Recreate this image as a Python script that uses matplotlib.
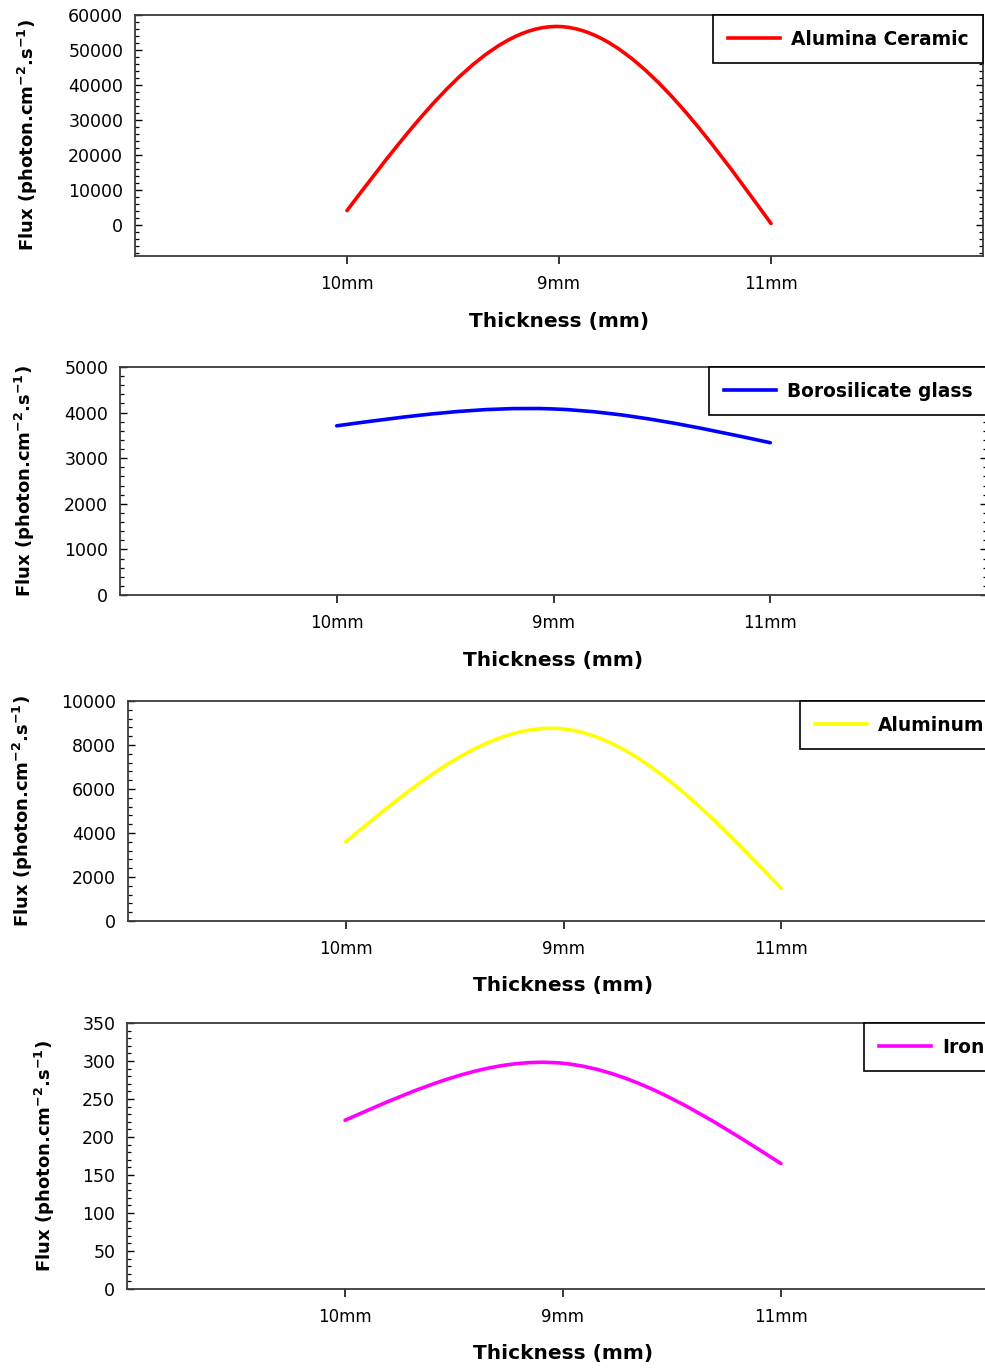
import numpy as np
import matplotlib
matplotlib.use('Agg')
import matplotlib.pyplot as plt
from matplotlib.path import Path
from matplotlib.patches import PathPatch
from matplotlib.lines import Line2D
from matplotlib.ticker import MultipleLocator, AutoMinorLocator

# ─── Data ──────────────────────────────────────────────────────────────────
thickness = ['10mm', '9mm', '11mm']
alumina_ceramic = [4000, 56700, 300]
borosilicate_glass = [3710, 4080, 3340]
aluminum = [3600, 8730, 1480]
iron = [222, 297, 165]

series = [
    ('Alumina Ceramic', alumina_ceramic, '#ff0000'),
    ('Borosilicate glass', borosilicate_glass, '#0000ff'),
    ('Aluminum', aluminum, '#ffff00'),
    ('Iron', iron, '#ff00ff'),
]

# ─── Layout (pixels on a 985 x 1371 canvas) ───────────────────────────────
W, H = 985, 1371
# left, right, top, bottom, ymin, ymax, major step, ylabel centre x
layout = [
    (135, 983, 15, 256, -9000, 60000, 10000, 28),
    (120, 987, 367, 595, 0, 5000, 1000, 25),
    (128, 999, 701, 921, 0, 10000, 2000, 23),
    (127, 999, 1023, 1289, 0, 350, 50, 45),
]

plt.rcParams.update({
    'font.family': 'DejaVu Sans',
    'axes.linewidth': 1.3,
    'axes.edgecolor': '#3a3a3a',
})

YLABEL = r'Flux (photon.cm$^{\mathbf{-2}}$.s$^{\mathbf{-1}}$)'


def spline_path(xs, ys):
    """Natural cubic spline through the points, as cubic Bezier segments."""
    xs = np.asarray(xs, float)
    ys = np.asarray(ys, float)
    n = len(xs)
    h = np.diff(xs)
    A = np.zeros((n, n))
    rhs = np.zeros(n)
    A[0, 0] = A[-1, -1] = 1.0
    for i in range(1, n - 1):
        A[i, i - 1] = h[i - 1]
        A[i, i] = 2 * (h[i - 1] + h[i])
        A[i, i + 1] = h[i]
        rhs[i] = 6 * ((ys[i + 1] - ys[i]) / h[i] - (ys[i] - ys[i - 1]) / h[i - 1])
    M = np.linalg.solve(A, rhs)
    verts = [(xs[0], ys[0])]
    codes = [Path.MOVETO]
    for i in range(n - 1):
        d = (ys[i + 1] - ys[i]) / h[i]
        s0 = d - h[i] * (2 * M[i] + M[i + 1]) / 6
        s1 = d + h[i] * (M[i] + 2 * M[i + 1]) / 6
        verts += [(xs[i] + h[i] / 3, ys[i] + s0 * h[i] / 3),
                  (xs[i + 1] - h[i] / 3, ys[i + 1] - s1 * h[i] / 3),
                  (xs[i + 1], ys[i + 1])]
        codes += [Path.CURVE4] * 3
    return Path(verts, codes)


fig = plt.figure(figsize=(W / 100, H / 100), dpi=100)
x = np.arange(len(thickness))

for (name, values, color), (l, r, t, b, ymin, ymax, step, ylx) in zip(series, layout):
    ax = fig.add_axes([l / W, 1 - b / H, (r - l) / W, (b - t) / H])

    ax.add_patch(PathPatch(spline_path(x, values), fill=False, edgecolor=color,
                           lw=2.6, capstyle='round', joinstyle='round'))

    ax.set_xlim(-1, 3)
    ax.set_ylim(ymin, ymax)
    ax.set_xticks(x)
    ax.set_xticklabels(thickness)
    ax.yaxis.set_major_locator(MultipleLocator(step))
    ax.yaxis.set_minor_locator(AutoMinorLocator(5))

    ax.tick_params(axis='x', direction='out', length=6, width=1.1,
                   labelsize=12, pad=8)
    ax.tick_params(axis='y', which='major', direction='in', length=5, width=1,
                   left=True, right=True, labelsize=12.5, pad=8.5)
    ax.tick_params(axis='y', which='minor', direction='in', length=3, width=0.9,
                   left=True, right=True)

    ax.set_ylabel(YLABEL, fontsize=13, fontweight='bold', va='center')
    ax.yaxis.set_label_coords(ylx / W, 1 - (t + b) / 2 / H, transform=fig.transFigure)
    ax.set_xlabel('Thickness (mm)', fontsize=14.5, fontweight='bold', va='center')
    ax.xaxis.set_label_coords((l + r) / 2 / W, 1 - (b + 65) / H, transform=fig.transFigure)

    handle = Line2D([], [], color=color, lw=2.6)
    leg = ax.legend([handle], [name], loc='upper right', borderaxespad=0,
                    fancybox=False, framealpha=1, edgecolor='black',
                    prop={'weight': 'bold', 'size': 13.4},
                    handlelength=2.8, handletextpad=0.6, borderpad=0.78)
    leg.get_frame().set_linewidth(1.2)

fig.savefig('out.png', dpi=100, facecolor='white')
